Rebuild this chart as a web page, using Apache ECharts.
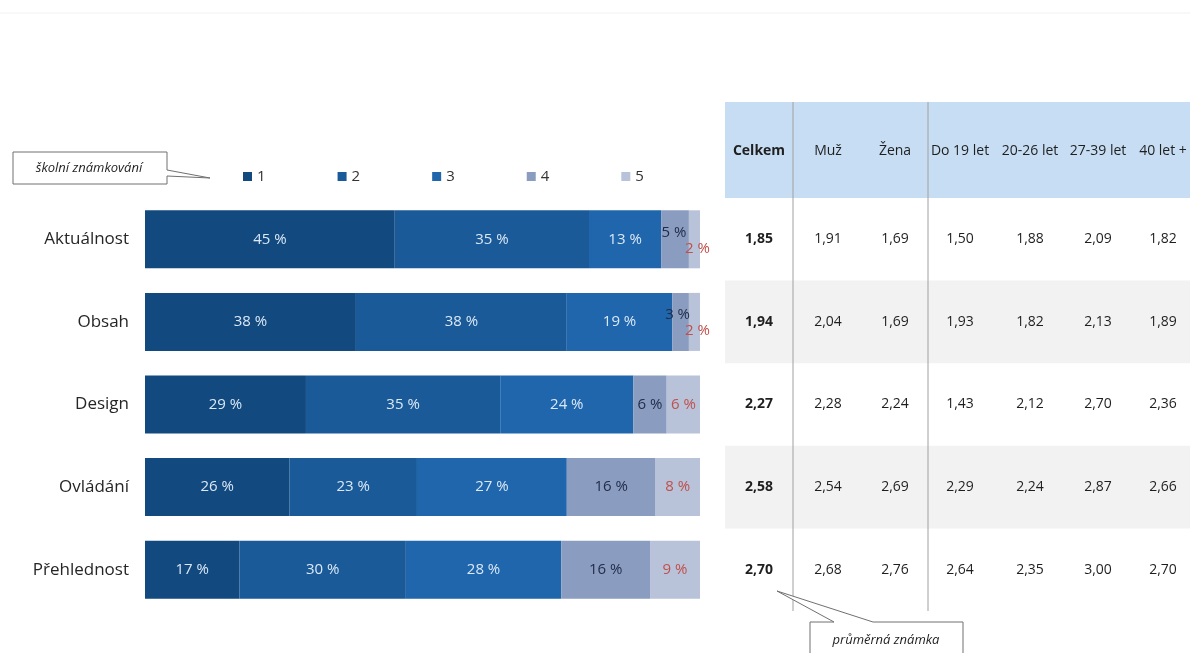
<!DOCTYPE html>
<html>
<head>
<meta charset="utf-8">
<script src="https://cdn.jsdelivr.net/npm/echarts@6/dist/echarts.min.js"></script>
<style>
  html, body { margin: 0; padding: 0; background: #ffffff; }
  #chart { width: 1190px; height: 653px; }
</style>
</head>
<body>
<div id="chart"></div>
<script>
// Hodnocení webu – podíl známek 1–5 (v %) a průměrné známky podle skupin
const categories = ['Aktuálnost', 'Obsah', 'Design', 'Ovládání', 'Přehlednost'];
const gradeNames = ['1', '2', '3', '4', '5'];
const grade1 = [45, 38, 29, 26, 17];
const grade2 = [35, 38, 35, 23, 30];
const grade3 = [13, 19, 24, 27, 28];
const grade4 = [5, 3, 6, 16, 16];
const grade5 = [2, 2, 6, 8, 9];

const tableHeaders = ['Celkem', 'Muž', 'Žena', 'Do 19 let', '20-26 let', '27-39 let', '40 let +'];
const avgCelkem = ['1,85', '1,94', '2,27', '2,58', '2,70'];
const avgMuz    = ['1,91', '2,04', '2,28', '2,54', '2,68'];
const avgZena   = ['1,69', '1,69', '2,24', '2,69', '2,76'];
const avgDo19   = ['1,50', '1,93', '1,43', '2,29', '2,64'];
const avg20_26  = ['1,88', '1,82', '2,12', '2,24', '2,35'];
const avg27_39  = ['2,09', '2,13', '2,70', '2,87', '3,00'];
const avg40     = ['1,82', '1,89', '2,36', '2,66', '2,70'];

const FONT = '"Open Sans", "Noto Sans", sans-serif';
const gradeColors = ['#12497f', '#1a5a98', '#1f66ad', '#8a9cc0', '#b8c2d8'];
const labelColors = ['#dbe8f6', '#dbe8f6', '#dbe8f6', '#1f2b48', '#c0504d'];

// narrow segments get their labels nudged so they do not collide
const labelNudge = {
  '3-0': [-1, -7], '4-0': [3, 9],
  '3-1': [-3, -7], '4-1': [3, 9]
};

const gradeValues = [grade1, grade2, grade3, grade4, grade5];

const series = gradeValues.map((vals, s) => ({
  name: gradeNames[s],
  type: 'bar',
  stack: 'total',
  barWidth: 58,
  itemStyle: { color: gradeColors[s] },
  label: {
    show: true,
    position: 'inside',
    formatter: '{c} %',
    color: labelColors[s],
    fontFamily: FONT,
    fontSize: 15
  },
  data: vals.map((v, i) => {
    const nudge = labelNudge[s + '-' + i];
    return nudge ? { value: v, label: { offset: nudge } } : v;
  })
}));

const chart = echarts.init(document.getElementById('chart'), null, { renderer: 'canvas' });

chart.setOption({
  backgroundColor: '#ffffff',
  animation: false,
  legend: {
    data: gradeNames,
    left: 238,
    top: 164,
    itemWidth: 9,
    itemHeight: 9,
    itemGap: 72,
    icon: 'rect',
    textStyle: { fontFamily: FONT, fontSize: 15, color: '#333' }
  },
  grid: { left: 145, right: 490, top: 198, bottom: 42 },
  xAxis: {
    type: 'value', min: 0, max: 100,
    show: false
  },
  yAxis: {
    type: 'category',
    data: categories,
    inverse: true,
    axisLine: { show: false },
    axisTick: { show: false },
    axisLabel: { fontFamily: FONT, fontSize: 17, color: '#262626', margin: 16 }
  },
  series: series
});

// Table of average grades to the right of the bars
const columns = [avgCelkem, avgMuz, avgZena, avgDo19, avg20_26, avg27_39, avg40];
const colX = [759, 828, 895, 960, 1030, 1098, 1163];
const rowY = categories.map(c => chart.convertToPixel({ yAxisIndex: 0 }, c));
const rowH = rowY.length > 1 ? rowY[1] - rowY[0] : 82;
const tableLeft = 725, tableRight = 1190, headTop = 102;
const bodyTop = rowY[0] - rowH / 2;
const bodyBottom = rowY[rowY.length - 1] + rowH / 2;

const g = [];
// faint page rule along the top
g.push({ type: 'line', shape: { x1: 0, y1: 13, x2: 1190, y2: 13 }, style: { stroke: '#f1f1f1', lineWidth: 1 } });
// header band
g.push({ type: 'rect', shape: { x: tableLeft, y: headTop, width: tableRight - tableLeft, height: bodyTop - headTop },
         style: { fill: '#c7ddf3' }, z: 1 });
// zebra rows
rowY.forEach((y, i) => {
  if (i % 2 === 1) {
    g.push({ type: 'rect', shape: { x: tableLeft, y: y - rowH / 2, width: tableRight - tableLeft, height: rowH },
             style: { fill: '#f2f2f2' }, z: 1 });
  }
});
// column separators
[793, 928].forEach(x => {
  g.push({ type: 'line', shape: { x1: x, y1: headTop, x2: x, y2: bodyBottom },
           style: { stroke: '#a0a0a0', lineWidth: 1 }, z: 2 });
});
// header texts
tableHeaders.forEach((h, c) => {
  g.push({ type: 'text', x: colX[c], y: (headTop + bodyTop) / 2 + 1, z: 3,
           style: { text: h, fill: '#1f1f1f', font: (c === 0 ? 'bold ' : '') + '14px ' + FONT,
                    align: 'center', verticalAlign: 'middle' } });
});
// body values
columns.forEach((col, c) => {
  col.forEach((v, r) => {
    g.push({ type: 'text', x: colX[c], y: rowY[r], z: 3,
             style: { text: v, fill: '#1f1f1f', font: (c === 0 ? 'bold ' : '') + '14px ' + FONT,
                      align: 'center', verticalAlign: 'middle' } });
  });
});

// callout: grading scale
g.push({ type: 'polygon', z: 4,
         shape: { points: [[13, 152], [167, 152], [167, 170], [210, 178], [167, 176], [167, 184], [13, 184]] },
         style: { fill: '#ffffff', stroke: '#707070', lineWidth: 1 } });
g.push({ type: 'text', x: 89, y: 168, z: 5,
         style: { text: 'školní známkování', fill: '#1f1f1f', font: 'italic 13px ' + FONT,
                  align: 'center', verticalAlign: 'middle' } });
// callout: average grade
g.push({ type: 'polygon', z: 4,
         shape: { points: [[810, 622], [834, 622], [777, 591], [873, 622], [963, 622], [963, 662], [810, 662]] },
         style: { fill: '#ffffff', stroke: '#707070', lineWidth: 1 } });
g.push({ type: 'text', x: 886, y: 640, z: 5,
         style: { text: 'průměrná známka', fill: '#1f1f1f', font: 'italic 13px ' + FONT,
                  align: 'center', verticalAlign: 'middle' } });

chart.setOption({ graphic: { elements: g } });
</script>
</body>
</html>
